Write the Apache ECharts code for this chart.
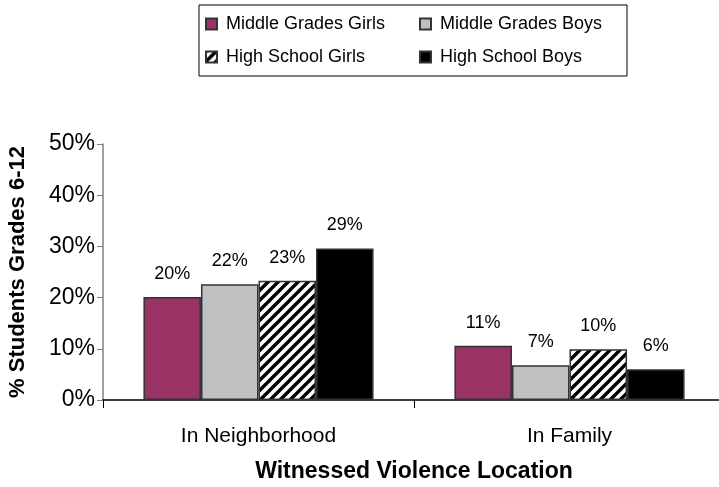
<!DOCTYPE html>
<html>
<head>
<meta charset="utf-8">
<script src="https://cdn.jsdelivr.net/npm/echarts@6/dist/echarts.min.js"></script>
<style>
  html, body { margin: 0; padding: 0; background: #fff; }
  #chart { width: 719px; height: 487px; }
</style>
</head>
<body>
<div id="chart"></div>
<script>
const categories = ["In Neighborhood", "In Family"];
const seriesNames = ["Middle Grades Girls", "Middle Grades Boys", "High School Girls", "High School Boys"];
const middleGirls = [20.1, 10.6];
const middleBoys = [22.6, 6.8];
const highGirls = [23.3, 9.9];
const highBoys = [29.6, 6.0];
const barLabels = [
  ["20%", "11%"],
  ["22%", "7%"],
  ["23%", "10%"],
  ["29%", "6%"]
];
const yTicks = [0, 10, 20, 30, 40, 50];

// hatch pattern: black "/" stripes on white
function makeHatch() {
  const c = document.createElement("canvas");
  c.width = 10;
  c.height = 10;
  const ctx = c.getContext("2d");
  ctx.fillStyle = "#fff";
  ctx.fillRect(0, 0, 10, 10);
  ctx.strokeStyle = "#000";
  ctx.lineWidth = 3.4;
  ctx.beginPath();
  ctx.moveTo(-2, 12); ctx.lineTo(12, -2);
  ctx.moveTo(-7, 7); ctx.lineTo(7, -7);
  ctx.moveTo(3, 17); ctx.lineTo(17, 3);
  ctx.stroke();
  return c;
}

const font = "Liberation Sans, Arial, sans-serif";
const colors = ["#993366", "#c0c0c0", { image: makeHatch(), repeat: "repeat" }, "#000000"];
const values = [middleGirls, middleBoys, highGirls, highBoys];

const chart = echarts.init(document.getElementById("chart"));

const series = seriesNames.map(function (name, i) {
  return {
    name: name,
    type: "bar",
    data: values[i],
    barGap: "0%",
    barCategoryGap: "26%",
    itemStyle: {
      color: colors[i],
      borderColor: "#333",
      borderWidth: 1.5
    },
    label: {
      show: true,
      position: "top",
      distance: 14,
      color: "#000",
      fontFamily: font,
      fontSize: 18,
      formatter: function (p) { return barLabels[i][p.dataIndex]; }
    }
  };
});

const legendText = { color: "#000", fontFamily: font, fontSize: 18, padding: [0, 0, 0, 4] };

const option = {
  animation: false,
  textStyle: { fontFamily: font },
  legend: [
    {
      data: [seriesNames[0], seriesNames[2]],
      orient: "vertical",
      left: 205,
      top: 15,
      icon: "rect",
      itemWidth: 11,
      itemHeight: 11,
      itemGap: 15,
      padding: 0,
      textStyle: legendText
    },
    {
      data: [seriesNames[1], seriesNames[3]],
      orient: "vertical",
      left: 419,
      top: 15,
      icon: "rect",
      itemWidth: 11,
      itemHeight: 11,
      itemGap: 15,
      padding: 0,
      textStyle: legendText
    }
  ],
  graphic: [
    {
      type: "rect",
      shape: { x: 199, y: 5, width: 428, height: 71 },
      style: { fill: "none", stroke: "#000", lineWidth: 1 },
      z: 0
    }
  ],
  grid: { left: 103, right: -6, top: 144, bottom: 87, outerBoundsMode: "none" },
  xAxis: {
    type: "category",
    data: categories,
    axisLine: { lineStyle: { color: "#000", width: 1.5 } },
    axisTick: { show: true, length: 8, lineStyle: { color: "#000" } },
    axisLabel: { color: "#000", fontFamily: font, fontSize: 21, margin: 26 },
    name: "Witnessed Violence Location",
    nameLocation: "middle",
    nameGap: 60,
    nameTextStyle: { color: "#000", fontFamily: font, fontSize: 23, fontWeight: "bold" }
  },
  yAxis: {
    type: "value",
    min: 0,
    max: 50,
    interval: 10,
    axisLine: { show: true, lineStyle: { color: "#808080", width: 1.5 } },
    axisTick: { show: true, length: 6, lineStyle: { color: "#808080" } },
    splitLine: { show: false },
    axisLabel: {
      color: "#000",
      fontFamily: font,
      fontSize: 23,
      margin: 8,
      formatter: function (v) { return yTicks.indexOf(v) >= 0 ? v + "%" : ""; }
    },
    name: "% Students Grades 6-12",
    nameLocation: "middle",
    nameGap: 74,
    nameRotate: 90,
    nameTextStyle: { color: "#000", fontFamily: font, fontSize: 22, fontWeight: "bold" }
  },
  series: series
};

chart.setOption(option);
</script>
</body>
</html>
